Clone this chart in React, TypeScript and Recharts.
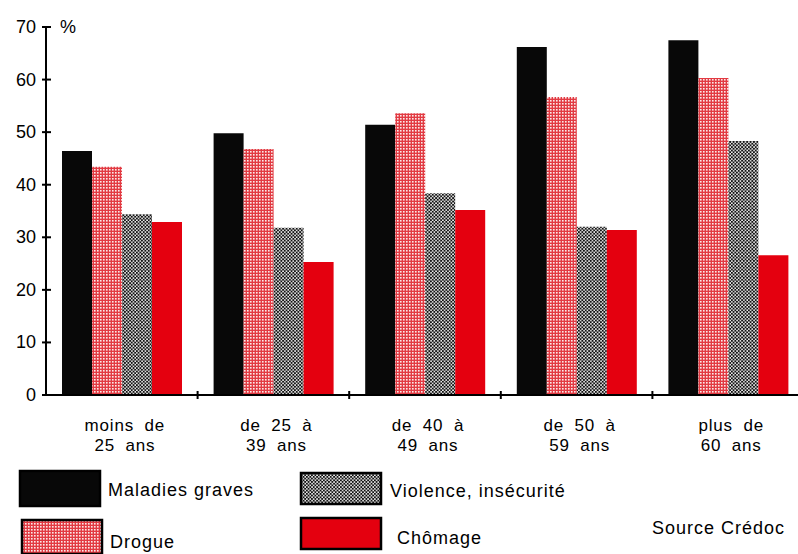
import React from 'react'
import { BarChart, Bar, XAxis, YAxis } from 'recharts'

// données (en %)
const ageGroups = ['moins de 25 ans', 'de 25 à 39 ans', 'de 40 à 49 ans', 'de 50 à 59 ans', 'plus de 60 ans']
const ageLines = [
  ['moins de', '25 ans'],
  ['de 25 à', '39 ans'],
  ['de 40 à', '49 ans'],
  ['de 50 à', '59 ans'],
  ['plus de', '60 ans']
]
const maladies = [46.4, 49.8, 51.4, 66.2, 67.5]
const drogue = [43.4, 46.8, 53.6, 56.7, 60.3]
const violence = [34.4, 31.8, 38.4, 32.0, 48.3]
const chomage = [32.9, 25.3, 35.2, 31.4, 26.6]
const yTicks = [0, 10, 20, 30, 40, 50, 60, 70]

const FONT = '"Liberation Sans", Arial, Helvetica, sans-serif'
const RED = '#e4000f'
const BLACK = '#080808'

const data = ageGroups.map((name, i) => ({
  name,
  maladies: maladies[i],
  drogue: drogue[i],
  violence: violence[i],
  chomage: chomage[i]
}))

function YTick(props: any) {
  const { x, y, payload } = props
  return (
    <g>
      <line x1={x - 4} x2={x + 5} y1={y} y2={y} stroke="#000" strokeWidth={2} />
      <text x={x - 10} y={y + 6} textAnchor="end" fontSize={18} fontFamily={FONT} fill="#000">
        {payload.value}
      </text>
    </g>
  )
}

function XTick(props: any) {
  const { x, y, payload, index } = props
  const lines = ageLines[index] || [payload.value]
  const half = payload.offset || 0
  return (
    <g>
      {index < ageGroups.length - 1 && (
        <line x1={x + half} x2={x + half} y1={y - 4} y2={y + 4} stroke="#000" strokeWidth={2} />
      )}
      <text
        x={x}
        textAnchor="middle"
        fontSize={17}
        fontFamily={FONT}
        fill="#000"
        letterSpacing={0.8}
        wordSpacing={5}
      >
        <tspan x={x + 3} y={y + 36}>{lines[0]}</tspan>
        <tspan x={x + 3} y={y + 56}>{lines[1]}</tspan>
      </text>
    </g>
  )
}

const legendItems = [
  { label: 'Maladies graves', fill: BLACK, box: [20, 471, 80, 35], tx: 108, ty: 496 },
  { label: 'Violence, insécurité', fill: 'url(#violence)', box: [301, 473, 80, 31], tx: 390, ty: 497 },
  { label: 'Drogue', fill: 'url(#drogue)', box: [22, 520, 80, 34], tx: 110, ty: 548 },
  { label: 'Chômage', fill: RED, box: [301, 518, 80, 31], tx: 397, ty: 544 }
]

export default function App() {
  return (
    <div style={{ position: 'absolute', left: 0, top: 0, width: 798, height: 554, overflow: 'hidden', background: '#fff' }}>
      <BarChart
        width={804}
        height={554}
        data={data}
        margin={{ top: 27, right: 0, bottom: 89, left: 0 }}
        barGap={0}
        barSize={30}
      >
        <XAxis
          dataKey="name"
          axisLine={{ stroke: '#000', strokeWidth: 2 }}
          tickLine={false}
          tickSize={0}
          tickMargin={0}
          height={70}
          interval={0}
          tick={<XTick />}
        />
        <YAxis
          domain={[0, 70]}
          ticks={yTicks}
          width={46}
          axisLine={{ stroke: '#000', strokeWidth: 2 }}
          tickLine={false}
          tickSize={0}
          tickMargin={0}
          tick={<YTick />}
        />
        <Bar dataKey="maladies" fill={BLACK} isAnimationActive={false} />
        <Bar dataKey="drogue" fill="url(#drogue)" isAnimationActive={false} />
        <Bar dataKey="violence" fill="url(#violence)" isAnimationActive={false} />
        <Bar dataKey="chomage" fill={RED} isAnimationActive={false} />
      </BarChart>

      <svg width={798} height={554} style={{ position: 'absolute', left: 0, top: 0, pointerEvents: 'none' }}>
        <defs>
          <pattern id="drogue" width={3} height={3} patternUnits="userSpaceOnUse">
            <rect width={3} height={3} fill="#e23a42" />
            <rect x={1} y={1} width={1.6} height={1.6} fill="#fbe9e9" />
          </pattern>
          <pattern id="violence" width={3.4} height={3.4} patternUnits="userSpaceOnUse">
            <rect width={3.4} height={3.4} fill="#eee" />
            <rect x={0} y={0} width={1.9} height={1.9} fill="#111" />
            <rect x={1.7} y={1.7} width={1.9} height={1.9} fill="#111" />
          </pattern>
        </defs>
        <text x={60} y={33} fontSize={18} fontFamily={FONT} fill="#000">%</text>
        {legendItems.map((it) => (
          <g key={it.label}>
            <rect
              x={it.box[0]}
              y={it.box[1]}
              width={it.box[2]}
              height={it.box[3]}
              fill={it.fill}
              stroke="#000"
              strokeWidth={2.5}
            />
            <text x={it.tx} y={it.ty} fontSize={18} fontFamily={FONT} fill="#000" letterSpacing={1}>
              {it.label}
            </text>
          </g>
        ))}
        <text x={652} y={534} fontSize={18} fontFamily={FONT} fill="#000" letterSpacing={1}>
          Source Crédoc
        </text>
      </svg>
    </div>
  )
}
